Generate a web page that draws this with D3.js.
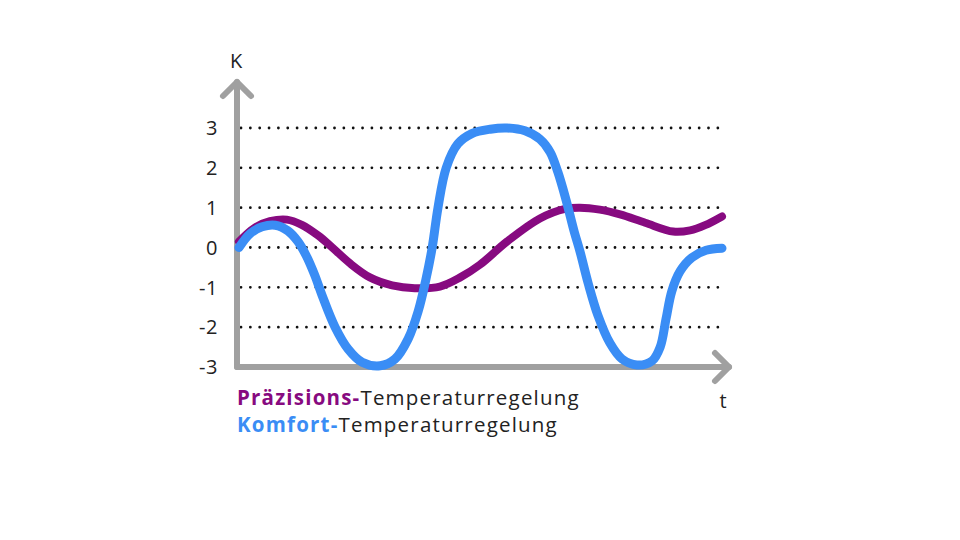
<!DOCTYPE html>
<html><head><meta charset="utf-8">
<script src="https://cdn.jsdelivr.net/npm/d3@7"></script>
<style>body{margin:0;background:#fff}svg{display:block}text{font-family:"Open Sans",sans-serif}</style>
</head><body>
<svg id="c" width="960" height="540"></svg>
<script>
const yTicks = [3, 2, 1, 0, -1, -2, -3];
const gridTicks = [3, 2, 1, 0, -1, -2];
const tBlue = [0,2.3,4.8,7.5,10.1,12.2,13.9,15.7,17.2,19.9,22.6,25.5,29.2,32.3,35.0,37.1,38.7,40.0,41.2,42.9,45.3,48.2,52.0,55.5,59.2,62.3,64.4,66.0,67.7,69.4,70.6,72.3,74.3,76.8,79.3,82.4,85.5,87.2,88.4,89.6,91.3,93.8,96.7,100];
const vBlue = [0,0.35,0.52,0.56,0.42,0.15,-0.2,-0.7,-1.2,-2.0,-2.55,-2.88,-2.97,-2.8,-2.3,-1.6,-0.8,0,1.0,2.0,2.6,2.86,2.97,3.0,2.93,2.72,2.4,1.9,1.2,0.4,-0.1,-0.9,-1.7,-2.4,-2.8,-2.95,-2.85,-2.5,-1.8,-1.1,-0.6,-0.25,-0.07,-0.02];
const tPurple = [0,3.3,6.4,9.9,13.0,16.4,19.3,23.0,27.1,31.7,36.4,41.6,45.8,49.9,55.5,62.3,67.5,70.6,74.7,78.9,84.1,89.9,93.4,96.5,100];
const vPurple = [0.15,0.5,0.66,0.7,0.57,0.3,0.0,-0.4,-0.75,-0.95,-1.02,-0.98,-0.75,-0.43,0.15,0.73,0.97,1.0,0.95,0.83,0.62,0.4,0.43,0.56,0.78];
const legendBold = ["Präzisions-", "Komfort-"];
const legendRest = ["Temperaturregelung", "Temperaturregelung"];
const colors = ["#870a80", "#3a8df5"];

const svg = d3.select("#c");
const x = d3.scaleLinear().domain([0, 100]).range([239, 722]);
const y = d3.scaleLinear().domain([-3, 3]).range([367, 128]);
const x0 = 237;

// gridlines
svg.append("g").selectAll("line").data(gridTicks).join("line")
  .attr("x1", x0 + 4).attr("x2", 722)
  .attr("y1", d => y(d)).attr("y2", d => y(d))
  .attr("stroke", "#111").attr("stroke-width", 2.8)
  .attr("stroke-linecap", "round").attr("stroke-dasharray", "0 9.35");

// tick labels
svg.append("g").selectAll("text").data(yTicks).join("text")
  .attr("x", 218).attr("y", d => y(d)).attr("dy", "0.36em")
  .attr("text-anchor", "end").attr("font-size", 20).attr("fill", "#222")
  .attr("letter-spacing", 0.6)
  .text(d => d);

// axes
const ax = svg.append("g").attr("stroke", "#a0a0a0").attr("stroke-width", 6)
  .attr("stroke-linecap", "round").attr("stroke-linejoin", "round").attr("fill", "none");
ax.append("path").attr("d", `M${x0},${y(-3)}V82`);
ax.append("path").attr("d", `M${x0-14},96L${x0},82L${x0+14},96`);
ax.append("path").attr("d", `M${x0},${y(-3)}H729`);
ax.append("path").attr("d", `M715,${y(-3)-14}L729,${y(-3)}L715,${y(-3)+14}`);

svg.append("text").attr("x", 236).attr("y", 68).attr("text-anchor", "middle")
  .attr("font-size", 20).attr("fill", "#222").text("K");
svg.append("text").attr("x", 723).attr("y", 408).attr("text-anchor", "middle")
  .attr("font-size", 20).attr("fill", "#222").text("t");

const line = d3.line().x(d => x(d[0])).y(d => y(d[1])).curve(d3.curveCatmullRom.alpha(0.5));
const purple = tPurple.map((t, i) => [t, vPurple[i]]);
const blue = tBlue.map((t, i) => [t, vBlue[i]]);
svg.append("path").attr("d", line(purple)).attr("fill", "none")
  .attr("stroke", colors[0]).attr("stroke-width", 8).attr("stroke-linecap", "round");
svg.append("path").attr("d", line(blue)).attr("fill", "none")
  .attr("stroke", colors[1]).attr("stroke-width", 9).attr("stroke-linecap", "round");

// legend
const lg = svg.append("g");
legendBold.forEach((b, i) => {
  const t = lg.append("text").attr("x", 237).attr("y", 405 + i * 27)
    .attr("font-size", 20.5).attr("letter-spacing", 1.2);
  t.append("tspan").attr("font-weight", 700).attr("fill", colors[i]).text(b);
  t.append("tspan").attr("fill", "#222").text(legendRest[i]);
});
</script>
</body></html>
